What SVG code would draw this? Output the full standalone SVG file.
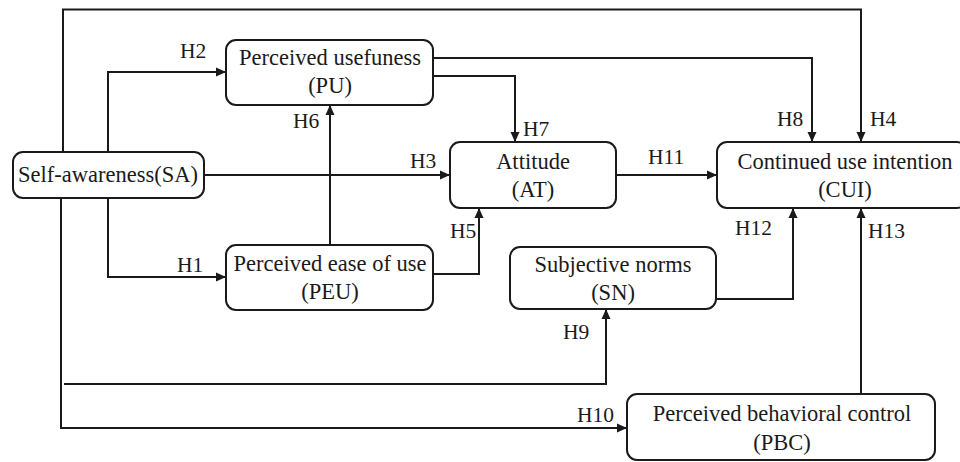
<svg xmlns="http://www.w3.org/2000/svg" width="960" height="462" viewBox="0 0 960 462">
<style>
.box{fill:#fff;stroke:#1a1a1a;stroke-width:2}
.t{font-family:'Liberation Serif','DejaVu Serif','Times New Roman',Times,serif;font-size:22.5px;fill:#1a1a1a;text-anchor:middle}
.l{font-family:'Liberation Serif','DejaVu Serif','Times New Roman',Times,serif;font-size:21.5px;fill:#1a1a1a}
.c{fill:none;stroke:#1a1a1a;stroke-width:2}
</style>
<defs>
<marker id="ah" viewBox="0 0 10 10" refX="10" refY="5" markerWidth="10" markerHeight="10" markerUnits="userSpaceOnUse" orient="auto">
<path d="M0,0.5 L10,5 L0,9.5 Z" fill="#1a1a1a"/>
</marker>
</defs>
<rect width="960" height="462" fill="#fff"/>
<g id="connectors">
<path class="c" d="M63,152 V9.5 H861 V142" marker-end="url(#ah)"/>
<path class="c" d="M108,152 V72 H226" marker-end="url(#ah)"/>
<path class="c" d="M204,175 H450" marker-end="url(#ah)"/>
<path class="c" d="M108,198 V277 H226" marker-end="url(#ah)"/>
<path class="c" d="M330,245 V105" marker-end="url(#ah)"/>
<path class="c" d="M433,274 H479 V208" marker-end="url(#ah)"/>
<path class="c" d="M433,76 H515 V142" marker-end="url(#ah)"/>
<path class="c" d="M433,58 H812 V142" marker-end="url(#ah)"/>
<path class="c" d="M616,175 H717" marker-end="url(#ah)"/>
<path class="c" d="M716,299 H793 V208" marker-end="url(#ah)"/>
<path class="c" d="M861,394 V208" marker-end="url(#ah)"/>
<path class="c" d="M64,384 H606 V309" marker-end="url(#ah)"/>
<path class="c" d="M61,198 V428 H627" marker-end="url(#ah)"/>
</g>
<g id="labels">
<text class="l" x="180" y="58">H2</text>
<text class="l" x="293" y="128">H6</text>
<text class="l" x="523" y="136">H7</text>
<text class="l" x="777" y="126">H8</text>
<text class="l" x="870" y="126">H4</text>
<text class="l" x="410" y="168">H3</text>
<text class="l" x="648" y="164">H11</text>
<text class="l" x="177" y="272">H1</text>
<text class="l" x="450" y="238">H5</text>
<text class="l" x="735" y="235">H12</text>
<text class="l" x="868" y="238">H13</text>
<text class="l" x="563" y="339">H9</text>
<text class="l" x="577" y="422">H10</text>
</g>
<g id="SA">
<rect class="box" x="13" y="152" width="191" height="46" rx="10"/>
<text class="t" x="108" y="182">Self-awareness(SA)</text>
</g>
<g id="PU">
<rect class="box" x="226" y="40" width="207" height="65" rx="10"/>
<text class="t" x="330" y="65">Perceived usefuness</text>
<text class="t" x="330" y="93">(PU)</text>
</g>
<g id="PEU">
<rect class="box" x="226" y="245" width="207" height="65" rx="10"/>
<text class="t" x="330" y="271">Perceived ease of use</text>
<text class="t" x="330" y="299">(PEU)</text>
</g>
<g id="AT">
<rect class="box" x="450" y="142" width="166" height="66" rx="10"/>
<text class="t" x="533" y="169">Attitude</text>
<text class="t" x="533" y="197">(AT)</text>
</g>
<g id="CUI">
<rect class="box" x="717" y="142" width="250" height="66" rx="10"/>
<text class="t" x="845" y="169">Continued use intention</text>
<text class="t" x="845" y="197">(CUI)</text>
</g>
<g id="SN">
<rect class="box" x="510" y="247" width="206" height="62" rx="10"/>
<text class="t" x="613" y="272">Subjective norms</text>
<text class="t" x="613" y="300">(SN)</text>
</g>
<g id="PBC">
<rect class="box" x="627" y="394" width="308" height="66" rx="10"/>
<text class="t" x="782" y="421">Perceived behavioral control</text>
<text class="t" x="782" y="450">(PBC)</text>
</g>
</svg>
